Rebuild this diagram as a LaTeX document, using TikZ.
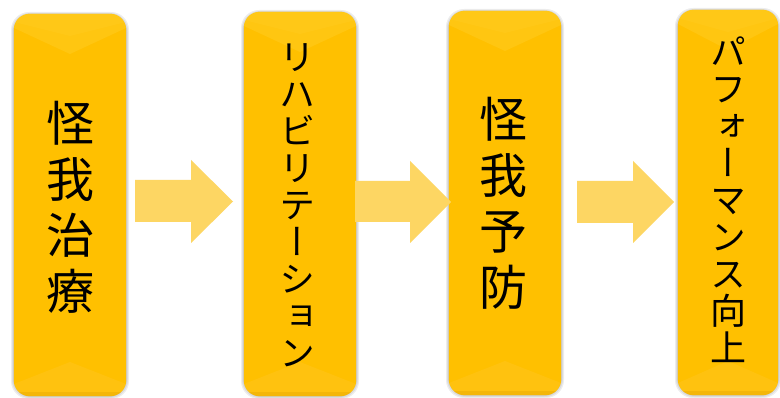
\documentclass[tikz,border=0pt]{standalone}
\usepackage{fontspec}
\newfontfamily\jp[RawFeature={+vert}]{Noto Sans CJK JP}
\definecolor{gold}{HTML}{FFC000}
\definecolor{golddark}{HTML}{E0A000}
\definecolor{goldright}{HTML}{FFC300}
\definecolor{goldlight}{HTML}{FFCC22}
\definecolor{goldbottom}{HTML}{FFC41A}
\definecolor{arrowfill}{HTML}{FDD663}
\pgfdeclarehorizontalshading{goldh}{100bp}{color(0bp)=(golddark); color(12bp)=(gold); color(85bp)=(gold); color(100bp)=(goldright)}
\tikzset{
  shadowlayer/.style={fill=black, opacity=0.07, rounded corners=18pt},
  boxbody/.style={shading=goldh, rounded corners=16pt},
  blockarrow/.style={fill=arrowfill},
  bigtext/.style={font=\jp\fontsize{48}{56}\selectfont, align=center, inner sep=0pt},
  smalltext/.style={font=\jp\fontsize{36}{37}\selectfont, align=center, inner sep=0pt},
}
% #1 name, #2 x1, #3 y1, #4 x2, #5 y2
\newcommand\goldbox[5]{%
  \fill[shadowlayer] (#2-3,#3-2) rectangle (#4+3,#5+3);
  \fill[shadowlayer] (#2-2,#3-1) rectangle (#4+2,#5+2);
  \fill[shadowlayer] (#2-1,#3) rectangle (#4+1,#5+1);
  \node[inner sep=0pt, minimum width={#4-#2}, minimum height={#5-#3}] (#1) at ({(#2+#4)/2},{(#3+#5)/2}) {};
  \shade[boxbody] (#1.north west) rectangle (#1.south east);
  \begin{scope}
    \clip[rounded corners=16pt] (#1.north west) rectangle (#1.south east);
    \fill[goldlight, opacity=0.5] (#2,#3) -- (#4,#3) -- (#4,#3+14) -- ({(#2+#4)/2},#3+40) -- (#2,#3+14) -- cycle;
    \fill[goldlight, opacity=0.4] (#2,#3) -- (#4,#3) -- (#4,#3+8) -- ({(#2+#4)/2},#3+22) -- (#2,#3+8) -- cycle;
    \fill[goldbottom, opacity=0.6] (#2,#5) -- (#4,#5) -- (#4,#5-12) -- ({(#2+#4)/2},#5-34) -- (#2,#5-12) -- cycle;
    \fill[golddark, opacity=0.35] (#2,#5) -- (#4,#5) -- (#4,#5-4) -- (#2,#5-4) -- cycle;
  \end{scope}
}
% #1 x shaft start, #2 head base x, #3 tip x, #4 shaft top, #5 shaft bottom, #6 head top, #7 head bottom
\newcommand\blockarrow[7]{%
  \fill[blockarrow] (#1,#4) -- (#2,#4) -- (#2,#6) -- (#3,{(#6+#7)/2}) -- (#2,#7) -- (#2,#5) -- (#1,#5) -- cycle;
}
\begin{document}
\begin{tikzpicture}[x=1pt,y=-1pt]
\useasboundingbox (0,0) rectangle (780,398);
\fill[white] (0,0) rectangle (780,398);
\goldbox{b1}{14}{14}{126}{396}
\goldbox{b2}{244}{12}{356}{396}
\goldbox{b3}{449}{11}{561}{395}
\goldbox{b4}{678}{10}{778}{395}
\blockarrow{135}{191}{233}{180}{222}{160}{243}
\blockarrow{355}{410}{451}{181}{222}{161}{243}
\blockarrow{577}{633}{674}{181}{223}{161}{243}
\node[bigtext] (t1) at (70,207) {怪\\我\\治\\療};
\node[smalltext] (t2) at (297,205) {リ\\ハ\\ビ\\リ\\テ\\ー\\シ\\ョ\\ン};
\node[bigtext] (t3) at (503,203) {怪\\我\\予\\防};
\node[smalltext] (t4) at (728,200) {パ\\フ\\ォ\\ー\\マ\\ン\\ス\\向\\上};
\end{tikzpicture}
\end{document}
